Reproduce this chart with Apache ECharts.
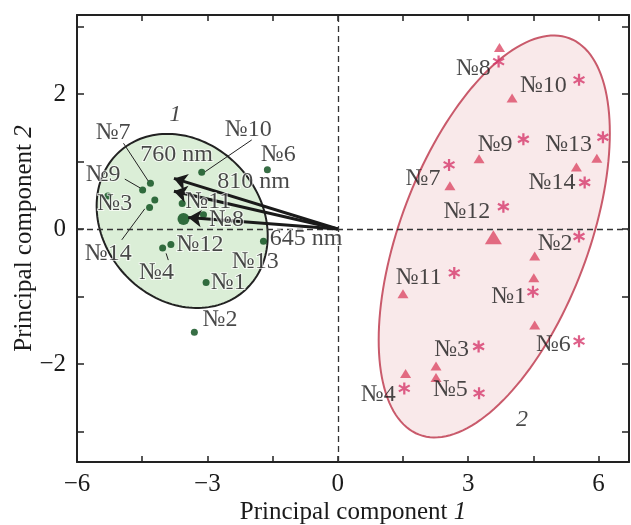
<!DOCTYPE html>
<html>
<head>
<meta charset="utf-8">
<script src="https://cdn.jsdelivr.net/npm/echarts@6/dist/echarts.min.js"></script>
<style>html,body{margin:0;padding:0;background:#fff}#c{width:631px;height:525px}</style>
</head>
<body>
<div id="c"></div>
<script>
// ---------- data ----------
const xTicks = [-6, -4.5, -3, -1.5, 0, 1.5, 3, 4.5, 6];
const xTickLabels = [-6, -3, 0, 3, 6];
const yTicks = [-3, -2, -1, 0, 1, 2, 3];
const yTickLabels = [-2, 0, 2];

// group 1 (green dots)
const g1X = [-5.29, -4.49, -4.31, -4.21, -4.33, -3.58, -3.13, -3.09, -1.62, -1.71, -4.03, -3.84, -3.03, -3.30];
const g1Y = [0.49, 0.58, 0.68, 0.43, 0.32, 0.38, 0.84, 0.21, 0.88, -0.18, -0.28, -0.23, -0.79, -1.53];
const g1Centroid = [-3.55, 0.15];

// group 2 (triangles)
const triX = [3.72, 4.01, 3.25, 5.96, 5.49, 2.58, 4.53, 4.51, 1.50, 4.53, 2.26, 2.26, 1.56];
const triY = [2.69, 1.94, 1.04, 1.05, 0.92, 0.64, -0.40, -0.72, -0.96, -1.42, -2.03, -2.20, -2.14];
const g2Centroid = [3.58, -0.12];

// group 2 (asterisks)
const astX = [3.70, 5.55, 4.27, 6.10, 5.68, 2.56, 3.81, 5.55, 4.49, 2.68, 5.55, 3.24, 1.53, 3.25];
const astY = [2.48, 2.21, 1.33, 1.36, 0.69, 0.95, 0.33, -0.11, -0.93, -0.65, -1.66, -1.74, -2.36, -2.43];

// loading arrows (origin -> tip)
const arrowTipX = [-3.77, -3.77, -3.44];
const arrowTipY = [0.75, 0.56, 0.17];

// confidence ellipses: center + two conjugate semi-axis vectors (data units)
const ellipse1Center = [-3.58, 0.12];
const ellipse1P = [1.968, -0.222];
const ellipse1Q = [0, -1.270];
const ellipse2Center = [3.60, -0.11];
const ellipse2P = [2.659, 1.533];
const ellipse2Q = [0, -2.551];

// annotations
const g1LabelText = ['№7', '№10', '760 nm', '№6', '810 nm', '№9', '№3', '№11', '№8', '645 nm', '№14', '№12', '№4', '№13', '№1', '№2'];
const g1LabelX = [-5.17, -2.06, -3.71, -1.37, -1.94, -5.40, -5.13, -2.98, -2.56, -0.73, -5.28, -3.17, -4.17, -1.90, -2.52, -2.71];
const g1LabelY = [1.42, 1.47, 1.10, 1.10, 0.70, 0.80, 0.38, 0.41, 0.14, -0.15, -0.36, -0.23, -0.65, -0.48, -0.80, -1.34];
const g2LabelText = ['№8', '№10', '№9', '№13', '№7', '№14', '№12', '№2', '№11', '№1', '№6', '№3', '№4', '№5'];
const g2LabelX = [3.12, 4.73, 3.62, 5.31, 1.96, 4.93, 2.97, 5.00, 1.86, 3.93, 4.96, 2.62, 0.93, 2.59];
const g2LabelY = [2.38, 2.13, 1.25, 1.25, 0.75, 0.68, 0.25, -0.21, -0.72, -1.00, -1.71, -1.79, -2.45, -2.38];
const groupLabelText = ['1', '2'];
const groupLabelX = [-3.74, 4.24];
const groupLabelY = [1.69, -2.82];

// leader lines [x1, y1, x2, y2]
const leaderX1 = [-4.93, -4.90, -4.97, -1.98, -3.95];
const leaderY1 = [1.27, 0.74, -0.16, 1.32, -0.36];
const leaderX2 = [-4.36, -4.55, -4.44, -3.05, -3.90];
const leaderY2 = [0.71, 0.61, 0.30, 0.85, -0.46];

// ---------- chart ----------
const FONT = 'Liberation Serif';
const TXT = '#1a1a1a';
const asteriskPath = 'path://M41 0L59 0L59 100L41 100Z M2.2 32.8L11.2 17.2L97.8 67.2L88.8 82.8Z M88.8 17.2L97.8 32.8L11.2 82.8L2.2 67.2Z';

const zip = (xs, ys) => xs.map((x, i) => [x, ys[i]]);
const fmt = v => (v < 0 ? '\u2212' + Math.abs(v) : String(v));

function ellipseSeries(c, p, q, z, fill, stroke) {
  return {
    type: 'custom', coordinateSystem: 'cartesian2d', z: z, silent: true, clip: false,
    data: [c],
    renderItem: function (params, api) {
      const pts = [];
      const n = 160;
      for (let i = 0; i < n; i++) {
        const t = 2 * Math.PI * i / n;
        pts.push(api.coord([c[0] + p[0] * Math.cos(t) + q[0] * Math.sin(t),
                            c[1] + p[1] * Math.cos(t) + q[1] * Math.sin(t)]));
      }
      return { type: 'polygon', shape: { points: pts }, style: { fill: fill, stroke: stroke, lineWidth: 2 } };
    }
  };
}

function labelSeries(texts, xs, ys, labelExtra) {
  return {
    type: 'scatter', z: 20, silent: true, symbolSize: 1, itemStyle: { color: 'rgba(0,0,0,0)' },
    data: texts.map((t, i) => ({ name: t, value: [xs[i], ys[i]] })),
    label: Object.assign({
      show: true, position: 'inside', formatter: '{b}', color: TXT,
      fontFamily: FONT, fontSize: 24
    }, labelExtra || {})
  };
}

const axisBase = {
  type: 'value', splitLine: { show: false },
  axisLine: { show: true, onZero: false, lineStyle: { color: '#222', width: 2 } }
};

const chart = echarts.init(document.getElementById('c'), null, { renderer: 'canvas' });
chart.setOption({
  animation: false,
  backgroundColor: '#fff',
  grid: { left: 77, right: 2, top: 15, bottom: 63, containLabel: false, outerBoundsMode: 'none' },
  xAxis: [
    Object.assign({}, axisBase, {
      min: -6, max: 6.7, position: 'bottom',
      axisTick: { show: true, inside: true, length: 6, customValues: xTicks, lineStyle: { color: '#222', width: 1.5 } },
      axisLabel: { show: true, customValues: xTickLabels, formatter: fmt, color: TXT, fontFamily: FONT, fontSize: 25, margin: 10 },
      name: 'Principal component {i|1}', nameLocation: 'middle', nameGap: 38, nameMoveOverlap: false,
      nameTextStyle: { color: TXT, fontFamily: FONT, fontSize: 25, rich: { i: { fontStyle: 'italic', fontFamily: FONT, fontSize: 25, color: TXT } } }
    }),
    Object.assign({}, axisBase, {
      min: -6, max: 6.7, position: 'top',
      axisTick: { show: true, inside: true, length: 6, customValues: xTicks, lineStyle: { color: '#222', width: 1.5 } },
      axisLabel: { show: false }
    })
  ],
  yAxis: [
    Object.assign({}, axisBase, {
      min: -3.45, max: 3.17, position: 'left',
      axisTick: { show: true, inside: true, length: 7, customValues: yTicks, lineStyle: { color: '#222', width: 1.5 } },
      axisLabel: { show: true, customValues: yTickLabels, formatter: fmt, color: TXT, fontFamily: FONT, fontSize: 25, margin: 11 },
      name: 'Principal component {i|2}', nameLocation: 'middle', nameGap: 40, nameRotate: 90, nameMoveOverlap: false,
      nameTextStyle: { color: TXT, fontFamily: FONT, fontSize: 25, rich: { i: { fontStyle: 'italic', fontFamily: FONT, fontSize: 25, color: TXT } } }
    }),
    Object.assign({}, axisBase, {
      min: -3.45, max: 3.17, position: 'right',
      axisTick: { show: true, inside: true, length: 7, customValues: yTicks, lineStyle: { color: '#222', width: 1.5 } },
      axisLabel: { show: false }
    })
  ],
  series: [
    ellipseSeries(ellipse2Center, ellipse2P, ellipse2Q, 1, '#f9e9ea', '#c95a6b'),
    {
      type: 'line', z: 2, data: [], silent: true,
      markLine: {
        silent: true, symbol: 'none', animation: false,
        label: { show: false },
        lineStyle: { color: '#333', width: 1.3, type: [6, 4] },
        data: [{ xAxis: 0 }, { yAxis: 0 }]
      }
    },
    ellipseSeries(ellipse1Center, ellipse1P, ellipse1Q, 3, '#dbeed7', '#222'),
    {
      type: 'scatter', z: 10, silent: true, symbol: 'circle', symbolSize: 7,
      itemStyle: { color: '#054a16' }, data: zip(g1X, g1Y)
    },
    {
      type: 'scatter', z: 10, silent: true, symbol: 'circle', symbolSize: 12,
      itemStyle: { color: '#054a16' }, data: [g1Centroid]
    },
    {
      type: 'scatter', z: 10, silent: true, symbol: 'triangle', symbolSize: [11, 9],
      itemStyle: { color: '#dc4a66' }, data: zip(triX, triY)
    },
    {
      type: 'scatter', z: 10, silent: true, symbol: 'triangle', symbolSize: [17, 14],
      itemStyle: { color: '#dc4a66' }, data: [g2Centroid]
    },
    {
      type: 'scatter', z: 10, silent: true, symbol: asteriskPath, symbolSize: 12,
      itemStyle: { color: '#d6386b' }, data: zip(astX, astY)
    },
    {
      type: 'lines', coordinateSystem: 'cartesian2d', z: 12, silent: true,
      symbol: ['none', 'arrow'], symbolSize: [0, 13],
      lineStyle: { color: '#1a1a1a', width: 3, opacity: 1 },
      data: arrowTipX.map((x, i) => ({ coords: [[0, 0], [x, arrowTipY[i]]] }))
    },
    {
      type: 'lines', coordinateSystem: 'cartesian2d', z: 12, silent: true,
      symbol: 'none',
      lineStyle: { color: '#222', width: 1, opacity: 1 },
      data: leaderX1.map((x, i) => ({ coords: [[x, leaderY1[i]], [leaderX2[i], leaderY2[i]]] }))
    },
    labelSeries(g1LabelText, g1LabelX, g1LabelY, { textBorderColor: 'rgba(255,255,255,0.85)', textBorderWidth: 2 }),
    labelSeries(g2LabelText, g2LabelX, g2LabelY),
    labelSeries(groupLabelText, groupLabelX, groupLabelY, { fontStyle: 'italic' })
  ]
});
</script>
</body>
</html>
